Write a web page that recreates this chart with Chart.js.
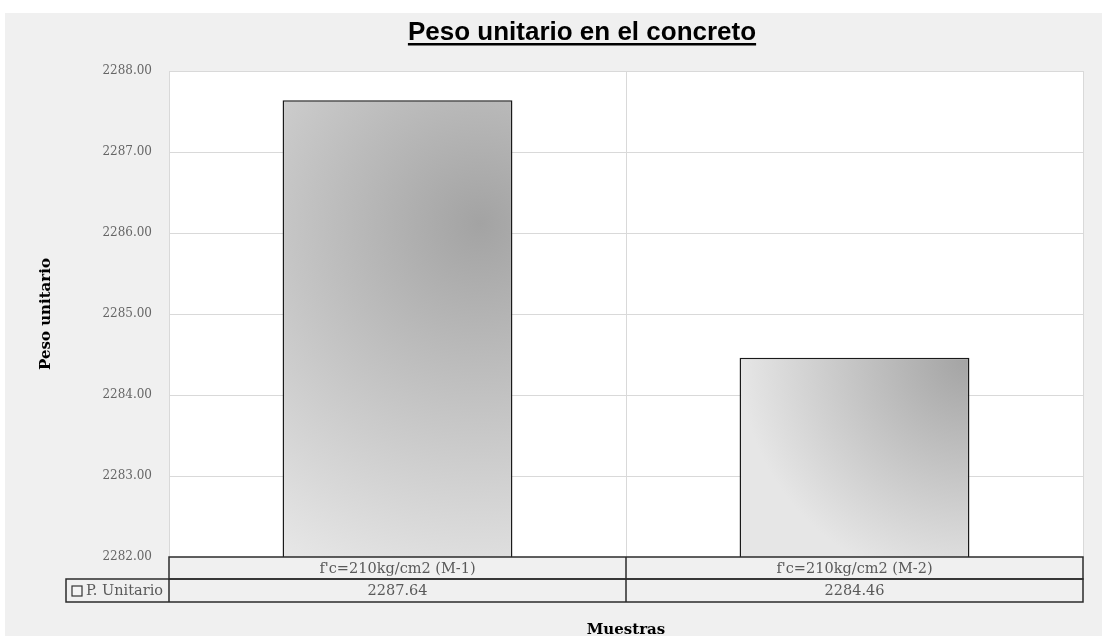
<!DOCTYPE html>
<html>
<head>
<meta charset="utf-8">
<script src="https://cdn.jsdelivr.net/npm/chart.js@4"></script>
<style>
    html, body { margin: 0; padding: 0; background: #ffffff; }
    canvas { display: block; }
</style>
</head>
<body>
<canvas id="pesoChart" width="1102" height="636"></canvas>
<script>
// data
const categories = ["f'c=210kg/cm2 (M-1)", "f'c=210kg/cm2 (M-2)"];
const pesoUnitario = [2287.64, 2284.46];
const seriesName = 'P. Unitario';
const yTicks = [2282, 2283, 2284, 2285, 2286, 2287, 2288];

const BAR_PCT = 0.503;
const SERIF = "'DejaVu Serif', serif";
const TITLE_FONT = { family: "'Liberation Sans', Arial, sans-serif", size: 26, weight: 'bold' };

// where the darker spot of each bar's radial fill sits (fraction of bar box)
const glowSpots = [
    { fx: 0.86, fy: 0.27, r: 1.65 },
    { fx: 1.0, fy: 0.0, r: 1.0 }
];

function barFill(context) {
    const chart = context.chart;
    if (!chart.chartArea || context.type !== 'data') return '#cfcfcf';
    const xs = chart.scales.x;
    const ys = chart.scales.y;
    const w = xs.width / categories.length * BAR_PCT;
    const left = xs.getPixelForValue(context.dataIndex) - w / 2;
    const top = ys.getPixelForValue(context.raw);
    const bottom = ys.bottom;
    const s = glowSpots[context.dataIndex] || glowSpots[0];
    const cx = left + s.fx * w;
    const cy = top + s.fy * (bottom - top);
    const g = chart.ctx.createRadialGradient(cx, cy, 0, cx, cy, s.r * w);
    g.addColorStop(0, '#a3a3a3');
    g.addColorStop(1, '#e6e6e6');
    return g;
}

// grey frame + white plot area
const backdrop = {
    id: 'backdrop',
    beforeDraw(chart) {
        const { ctx, chartArea: a, width, height } = chart;
        ctx.save();
        ctx.fillStyle = '#ffffff';
        ctx.fillRect(0, 0, width, height);
        ctx.fillStyle = '#f0f0f0';
        ctx.fillRect(5, 13, width - 5, height - 13);
        ctx.fillStyle = '#ffffff';
        ctx.fillRect(a.left, a.top, a.right - a.left, a.bottom - a.top);
        ctx.restore();
    }
};

// data table under the plot + title underline
const dataTable = {
    id: 'dataTable',
    afterDraw(chart) {
        const { ctx, chartArea: a, scales: { x } } = chart;
        const r1 = a.bottom, r2 = a.bottom + 22, r3 = a.bottom + 45;
        const legendLeft = 66;
        const step = x.width / categories.length;

        ctx.save();
        ctx.fillStyle = '#f0f0f0';
        ctx.fillRect(a.left, r1, a.right - a.left, r2 - r1);
        ctx.fillRect(legendLeft, r2, a.right - legendLeft, r3 - r2);

        ctx.strokeStyle = '#2b2b2b';
        ctx.lineWidth = 1.5;
        ctx.strokeRect(a.left, r1, a.right - a.left, r2 - r1);
        ctx.strokeRect(legendLeft, r2, a.right - legendLeft, r3 - r2);
        ctx.beginPath();
        ctx.moveTo(a.left, r2);
        ctx.lineTo(a.left, r3);
        for (let i = 1; i < categories.length; i++) {
            const bx = x.left + i * step;
            ctx.moveTo(bx, r1);
            ctx.lineTo(bx, r3);
        }
        ctx.stroke();

        ctx.fillStyle = '#595959';
        ctx.font = `14.5px ${SERIF}`;
        ctx.textAlign = 'center';
        ctx.textBaseline = 'middle';
        categories.forEach((c, i) => {
            const cx = x.getPixelForValue(i);
            ctx.fillText(c, cx, (r1 + r2) / 2 + 1);
            ctx.fillText(pesoUnitario[i].toFixed(2), cx, (r2 + r3) / 2 + 1);
        });

        // legend key
        ctx.fillStyle = '#f4f4f4';
        ctx.fillRect(72, r2 + 7, 10, 10);
        ctx.lineWidth = 1.2;
        ctx.strokeStyle = '#333333';
        ctx.strokeRect(72, r2 + 7, 10, 10);
        ctx.fillStyle = '#595959';
        ctx.textAlign = 'left';
        ctx.fillText(seriesName, 86, (r2 + r3) / 2 + 1);

        // underline the title
        const tb = chart.titleBlock;
        if (tb) {
            ctx.font = `bold ${TITLE_FONT.size}px ${TITLE_FONT.family}`;
            const w = ctx.measureText(tb.options.text).width;
            const cx = (tb.left + tb.right) / 2;
            ctx.fillStyle = '#000000';
            ctx.fillRect(cx - w / 2, 43, w, 2.5);
        }
        ctx.restore();
    }
};

new Chart(document.getElementById('pesoChart'), {
    type: 'bar',
    data: {
        labels: categories,
        datasets: [{
            label: seriesName,
            data: pesoUnitario,
            backgroundColor: barFill,
            borderColor: '#1a1a1a',
            borderWidth: 1.5,
            borderSkipped: false,
            barPercentage: BAR_PCT,
            categoryPercentage: 1
        }]
    },
    options: {
        responsive: false,
        animation: false,
        layout: { padding: { left: 81, right: 19, top: 0, bottom: 0 } },
        plugins: {
            legend: { display: false },
            tooltip: { enabled: false },
            title: {
                display: true,
                text: 'Peso unitario en el concreto',
                color: '#000000',
                font: TITLE_FONT,
                padding: { top: 17, bottom: 22.8 }
            }
        },
        scales: {
            x: {
                grid: { color: '#d9d9d9', drawTicks: false, offset: true },
                border: { color: '#d9d9d9' },
                ticks: { display: false },
                title: {
                    display: true,
                    text: 'Muestras',
                    color: '#000000',
                    font: { family: SERIF, size: 15, weight: 'bold' },
                    padding: { top: 0, bottom: -3 }
                },
                afterFit(scale) { scale.height = 79; }
            },
            y: {
                min: yTicks[0],
                max: yTicks[yTicks.length - 1],
                afterBuildTicks(scale) {
                    scale.ticks = yTicks.map(v => ({ value: v }));
                },
                grid: { color: '#d9d9d9', drawTicks: false },
                border: { color: '#d9d9d9' },
                ticks: {
                    color: '#666666',
                    padding: 17,
                    font: { family: SERIF, size: 12 },
                    callback: v => Number(v).toFixed(2)
                },
                title: {
                    display: true,
                    text: 'Peso unitario',
                    color: '#000000',
                    font: { family: SERIF, size: 15, weight: 'bold' },
                    padding: { top: -44, bottom: 0 }
                },
                afterFit(scale) { scale.width = 88; }
            }
        }
    },
    plugins: [backdrop, dataTable]
});
</script>
</body>
</html>
